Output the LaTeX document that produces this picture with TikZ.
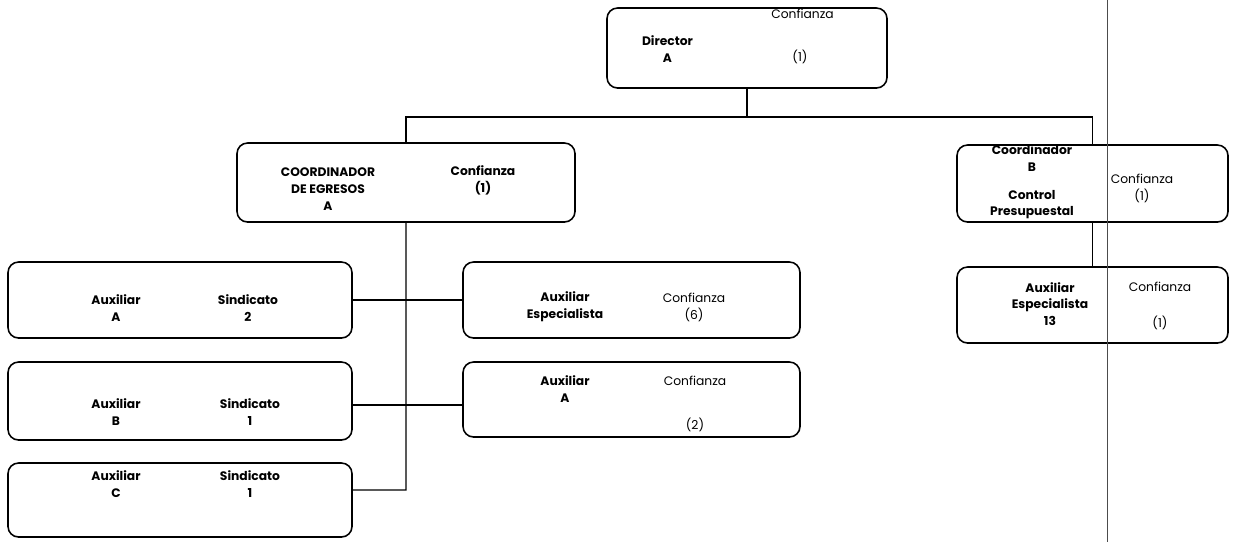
\documentclass[tikz,border=0pt]{standalone}
\usepackage{fontspec}
\setmainfont{Poppins}
\usetikzlibrary{positioning,calc}
\newcommand{\fs}{\fontsize{7}{9.6}\selectfont}

\begin{document}
\begin{tikzpicture}[font=\fs,
  puesto/.style={draw=black, line width=0.9pt, rounded corners=6pt, inner sep=0pt},
  nom/.style={font=\fs\bfseries, align=center, inner sep=0pt},
  tipo/.style={font=\fs, align=center, inner sep=0pt},
  link/.style={draw=black, line width=0.6pt}]
\useasboundingbox[fill=white] (0,0) rectangle (24.82,-10.84);
% -- direccion
\node[puesto, minimum width=5.6cm, minimum height=1.6cm] (dir) at (14.94,-0.96) {};
\node[nom] (dirN) at (13.35,-0.98) {Director\\A};
\node[tipo] (dirT) at (16.05,-0.28) {Confianza};
\node[tipo] (dirC) at (16.0,-1.14) {(1)};
% -- coordinaciones
\node[puesto, minimum width=6.76cm, minimum height=1.58cm] (coegr) at (8.12,-3.65) {};
\node[nom] (coegrN) at (6.56,-3.78) {COORDINADOR\\DE EGRESOS\\A};
\node[nom] (coegrT) at (9.66,-3.6) {Confianza\\(1)};
\node[puesto, minimum width=5.42cm, minimum height=1.54cm] (cob) at (21.85,-3.67) {};
\node[nom] (cobN) at (20.64,-3.64) {Coordinador\\B\\[6pt]Control\\Presupuestal};
\node[tipo] (cobT) at (22.84,-3.76) {Confianza\\(1)};
% -- auxiliares de sindicato
\node[puesto, minimum width=6.88cm, minimum height=1.52cm] (auxa) at (3.6,-6.0) {};
\node[nom] (auxaN) at (2.32,-6.16) {Auxiliar\\A};
\node[nom] (auxaT) at (4.96,-6.16) {Sindicato\\2};
\node[puesto, minimum width=6.88cm, minimum height=1.56cm] (auxb) at (3.6,-8.02) {};
\node[nom] (auxbN) at (2.32,-8.24) {Auxiliar\\B};
\node[nom] (auxbT) at (5.0,-8.24) {Sindicato\\1};
\node[puesto, minimum width=6.88cm, minimum height=1.48cm] (auxc) at (3.6,-10.0) {};
\node[nom] (auxcN) at (2.32,-9.68) {Auxiliar\\C};
\node[nom] (auxcT) at (5.0,-9.68) {Sindicato\\1};
% -- auxiliares de confianza
\node[puesto, minimum width=6.74cm, minimum height=1.52cm] (auxesp) at (12.63,-6.0) {};
\node[nom] (auxespN) at (11.3,-6.14) {Auxiliar\\Especialista};
\node[tipo] (auxespT) at (13.88,-6.14) {Confianza\\(6)};
\node[puesto, minimum width=6.74cm, minimum height=1.5cm] (auxam) at (12.63,-7.99) {};
\node[nom] (auxamN) at (11.3,-7.78) {Auxiliar\\A};
\node[tipo] (auxamT) at (13.9,-7.62) {Confianza};
\node[tipo] (auxamC) at (13.9,-8.5) {(2)};
\node[puesto, minimum width=5.42cm, minimum height=1.52cm] (auxesb) at (21.85,-6.1) {};
\node[nom] (auxesbN) at (21.0,-6.08) {Auxiliar\\Especialista\\13};
\node[tipo] (auxesbT) at (23.2,-5.74) {Confianza};
\node[tipo] (auxesbC) at (23.2,-6.46) {(1)};
% -- lineas de mando
\coordinate (bus) at (0,-2.34);
\draw[link] (dir.south) -- (dir.south |- bus);
\draw[link] (coegr.north) -- (coegr.north |- bus) -- (cob.north |- bus) -- (cob.north);
\draw[link] (cob.south) -- (auxesb.north);
\draw[link] (coegr.south) -- (coegr.south |- 0,-9.8) -- ([yshift=0.2cm]auxc.east);
\draw[link] (auxa.east) -- (auxesp.west);
\draw[link] ([yshift=-0.08cm]auxb.east) -- ([yshift=-0.08cm]auxb.east -| auxam.west);
% -- margen de hoja
\coordinate (pgtop) at (22.14,0);
\coordinate (pgbot) at (22.14,-10.84);
\draw[black!70, line width=0.5pt] (pgtop) -- (pgbot);
\end{tikzpicture}
\end{document}
